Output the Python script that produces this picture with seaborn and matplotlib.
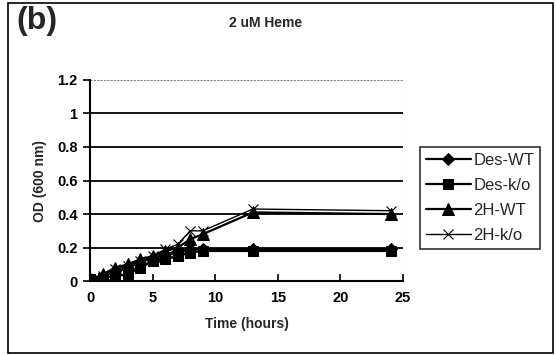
import matplotlib
matplotlib.use("Agg")
import matplotlib.pyplot as plt
import seaborn as sns
import pandas as pd
from matplotlib.patches import Rectangle

time_h = [0, 1, 2, 3, 4, 5, 6, 7, 8, 9, 13, 24]
des_wt = [0.01, 0.03, 0.06, 0.08, 0.11, 0.14, 0.16, 0.18, 0.19, 0.19, 0.19, 0.19]
des_ko = [0.01, 0.02, 0.03, 0.04, 0.08, 0.12, 0.13, 0.15, 0.17, 0.18, 0.18, 0.18]
h2_wt = [0.01, 0.04, 0.08, 0.10, 0.13, 0.15, 0.18, 0.20, 0.25, 0.28, 0.41, 0.40]
h2_ko = [0.01, 0.03, 0.07, 0.09, 0.12, 0.15, 0.19, 0.22, 0.30, 0.30, 0.43, 0.42]
series_names = ["Des-WT", "Des-k/o", "2H-WT", "2H-k/o"]
y_ticks = [0, 0.2, 0.4, 0.6, 0.8, 1, 1.2]
y_tick_labels = ["0", "0.2", "0.4", "0.6", "0.8", "1", "1.2"]
x_ticks = [0, 5, 10, 15, 20, 25]

sns.set_theme(style="white")
plt.rcParams['font.family'] = ['Liberation Sans', 'DejaVu Sans']

rows = []
for name, vals in zip(series_names, [des_wt, des_ko, h2_wt, h2_ko]):
    for t, v in zip(time_h, vals):
        rows.append({"Time (hours)": t, "OD": v, "series": name})
df = pd.DataFrame(rows)

fig = plt.figure(figsize=(5.56, 3.55), dpi=100)
ax = fig.add_axes([0.162, 0.208, 0.563, 0.567])

styles = {
    "Des-WT": dict(marker="D", markersize=6, linewidth=1.6),
    "Des-k/o": dict(marker="s", markersize=7, linewidth=1.6),
    "2H-WT": dict(marker="^", markersize=8, linewidth=1.6),
    "2H-k/o": dict(marker="x", markersize=7, linewidth=1.0, markeredgewidth=0.8),
}
for name in series_names:
    sub = df[df["series"] == name]
    sns.lineplot(data=sub, x="Time (hours)", y="OD", color="black",
                 label=name, ax=ax, markeredgecolor="black", **styles[name])

ax.set_xlim(0, 25)
ax.set_ylim(0, 1.2)
ax.set_yticks(y_ticks)
ax.set_yticklabels(y_tick_labels)
ax.set_xticks(x_ticks)
for y in y_ticks[1:-1]:
    ax.axhline(y, color="black", lw=1.3, zorder=0)
ax.axhline(1.2, color="gray", lw=0.8, ls=(0, (2, 1)), zorder=0)

for s in ["top", "right"]:
    ax.spines[s].set_visible(False)
ax.axvline(25, color="gray", lw=0.8, ls=(0, (2, 2)), zorder=0)
for s in ["left", "bottom"]:
    ax.spines[s].set_color("black")
    ax.spines[s].set_linewidth(1.5)

ax.tick_params(axis="y", direction="out", length=5, width=1.2, colors="black",
               labelsize=10.5, left=True, pad=4)
ax.tick_params(axis="x", direction="in", length=5, width=1.2, colors="black",
               labelsize=10.5, bottom=True, pad=7)
for lab in ax.get_xticklabels() + ax.get_yticklabels():
    lab.set_fontweight("bold")

ax.set_xlabel("Time (hours)", fontsize=10, fontweight="bold", labelpad=9)
ax.set_ylabel("OD (600 nm)", fontsize=10, fontweight="bold", labelpad=7)

leg = ax.legend(loc="upper left", bbox_to_anchor=(1.054, 0.665), frameon=True,
                fancybox=False, edgecolor="black", fontsize=12,
                handlelength=2.7, handletextpad=0.15, borderpad=0.35,
                labelspacing=0.6, borderaxespad=0)
leg.get_frame().set_linewidth(1.2)

fig.text(0.477, 0.935, "2 uM Heme", ha="center", va="center",
         fontsize=10, fontweight="bold")
fig.text(0.03, 0.94, "(b)", ha="left", va="center", fontsize=23,
         fontweight="bold")

fig.patches.append(Rectangle((0.014, 0.006), 0.98, 0.985,
                             transform=fig.transFigure, fill=False,
                             edgecolor="black", lw=1.2))

fig.savefig("out.png", dpi=100)
